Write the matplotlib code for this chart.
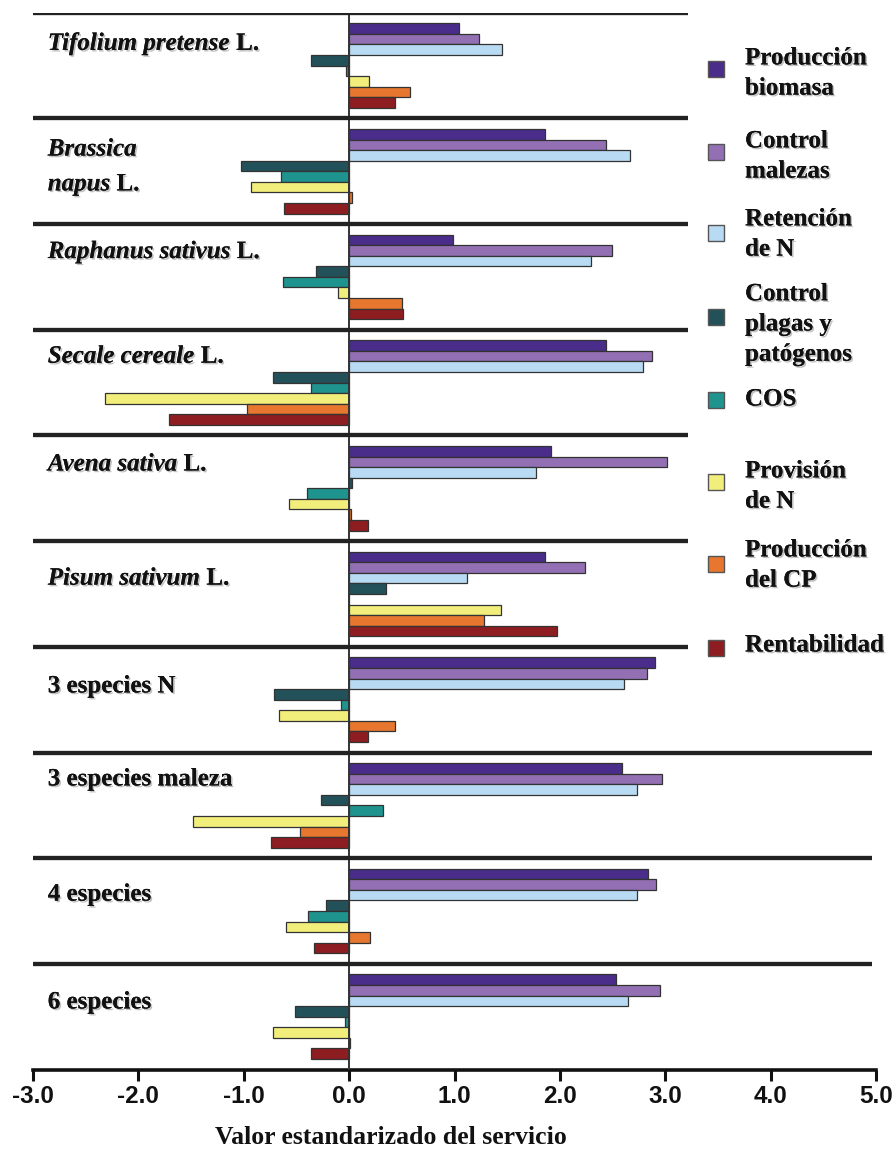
import matplotlib
matplotlib.use("Agg")
import matplotlib.pyplot as plt
import matplotlib.patheffects as pe
from matplotlib.patches import Rectangle
import numpy as np

# ---------------- data ----------------
categories = ["Tifolium pretense L.", "Brassica\nnapus L.", "Raphanus sativus L.",
              "Secale cereale L.", "Avena sativa L.", "Pisum sativum L.",
              "3 especies N", "3 especies maleza", "4 especies", "6 especies"]

series_names = ["Producción\nbiomasa", "Control\nmalezas", "Retención\nde N",
                "Control\nplagas y\npatógenos", "COS", "Provisión\nde N",
                "Producción\ndel CP", "Rentabilidad"]

prod_biomasa    = [1.04, 1.86, 0.99, 2.44, 1.92, 1.86, 2.90, 2.59, 2.84, 2.53]
control_malezas = [1.23, 2.44, 2.49, 2.87, 3.02, 2.24, 2.83, 2.97, 2.91, 2.95]
retencion_n     = [1.45, 2.67, 2.30, 2.79, 1.77, 1.12, 2.61, 2.73, 2.73, 2.65]
control_plagas  = [-0.36, -1.03, -0.31, -0.72, 0.03, 0.35, -0.71, -0.27, -0.22, -0.51]
cos             = [-0.03, -0.65, -0.63, -0.36, -0.40, 0.00, -0.08, 0.32, -0.39, -0.04]
provision_n     = [0.19, -0.93, -0.11, -2.32, -0.57, 1.44, -0.67, -1.48, -0.60, -0.72]
produccion_cp   = [0.58, 0.03, 0.50, -0.97, 0.02, 1.28, 0.44, -0.47, 0.20, 0.01]
rentabilidad    = [0.44, -0.62, 0.51, -1.71, 0.18, 1.97, 0.18, -0.74, -0.33, -0.36]

x_ticks = [-3.0, -2.0, -1.0, 0.0, 1.0, 2.0, 3.0, 4.0, 5.0]
x_label = "Valor estandarizado del servicio"

series = [prod_biomasa, control_malezas, retencion_n, control_plagas,
          cos, provision_n, produccion_cp, rentabilidad]
colors = ["#4a2d8a", "#9370b4", "#b8daf2", "#23515a",
          "#1f948f", "#f2ee7c", "#e7772f", "#8d1d20"]

# ---------------- figure ----------------
W, H = 892, 1156
fig = plt.figure(figsize=(W / 100, H / 100), dpi=100)
fig.patch.set_facecolor("white")

def fx(px):
    return px / W

def fy(py):
    return 1 - py / H

ax_l, ax_r, ax_t, ax_b = 33, 876, 12.7, 1069.6
ax = fig.add_axes([fx(ax_l), fy(ax_b), fx(ax_r) - fx(ax_l), fy(ax_t) - fy(ax_b)])
ax.set_xlim(-3, 5)
ax.set_ylim(0, 10)

serif = ["Liberation Serif", "DejaVu Serif"]
sans = ["Liberation Sans", "DejaVu Sans"]
shadow = [pe.withSimplePatchShadow(offset=(1.2, -1.2), shadow_rgbFace="#777777", alpha=0.45),
          pe.Normal()]

n_groups = len(categories)
bar_h = 0.1
for s_idx, (vals, col) in enumerate(zip(series, colors)):
    ys = [n_groups - g - 0.1 - bar_h / 2 - s_idx * bar_h for g in range(n_groups)]
    ax.barh(ys, vals, height=bar_h, color=col, edgecolor="#333333",
            linewidth=0.9, zorder=3)

# zero line
ax.axvline(0, color="#333333", lw=1.4, zorder=4)

# group separators
for k in range(1, n_groups + 1):
    xmax = 3.22 if k >= 4 else 4.96
    ax.hlines(k, -3, xmax, color="#222222", lw=3.0, zorder=5,
              path_effects=[pe.withSimplePatchShadow(offset=(0, -1.2), shadow_rgbFace="#888888", alpha=0.5), pe.Normal()])

# spines / ticks
for sp in ["top", "right", "left"]:
    ax.spines[sp].set_visible(False)
ax.spines["bottom"].set_linewidth(2.6)
ax.spines["bottom"].set_color("#111111")
ax.set_yticks([])
ax.set_xticks(x_ticks)
ax.set_xticklabels([f"{v:.1f}" for v in x_ticks], family=sans, fontweight="bold",
                   fontsize=17.5, color="#111111")
ax.tick_params(axis="x", direction="out", length=8, width=2.2, color="#111111", pad=3)

# x label
fig.text(fx(391), fy(1138), x_label, ha="center", va="center", family=serif,
         fontweight="bold", fontsize=18.5, color="#111111")

# group labels
label_offsets = [0.29, 0.29, 0.26, 0.25, 0.27, 0.35, 0.37, 0.25, 0.34, 0.36]
fig.canvas.draw()
renderer = fig.canvas.get_renderer()
for g, (lab, off) in enumerate(zip(categories, label_offsets)):
    ytop = n_groups - g
    lines = lab.split("\n")
    for li, line in enumerate(lines):
        y = ytop - off - li * 0.33
        if line.endswith(" L."):
            ital = line[:-3] + " "
            t = ax.text(-2.86, y, ital, ha="left", va="center", family=serif,
                        fontweight="bold", fontstyle="italic", fontsize=18,
                        color="#111111", path_effects=shadow, zorder=6)
            bb = t.get_window_extent(renderer=renderer)
            x_end = ax.transData.inverted().transform((bb.x1, bb.y0))[0]
            ax.text(x_end, y, "L.", ha="left", va="center", family=serif,
                    fontweight="bold", fontsize=18, color="#111111",
                    path_effects=shadow, zorder=6)
        elif g < 6:
            ax.text(-2.86, y, line, ha="left", va="center", family=serif,
                    fontweight="bold", fontstyle="italic", fontsize=18,
                    color="#111111", path_effects=shadow, zorder=6)
        else:
            ax.text(-2.86, y, line, ha="left", va="center", family=serif,
                    fontweight="bold", fontsize=18, color="#111111",
                    path_effects=shadow, zorder=6)

# legend (manual)
leg_sq_y = [69, 152, 233, 317, 400, 482, 564, 648]
leg_txt_dy = [4, 4, 1, 7, -1, 4, 1, -3]
sq = 16
for name, col, ys, dy in zip(series_names, colors, leg_sq_y, leg_txt_dy):
    fig.patches.append(Rectangle((fx(708), fy(ys + sq / 2)), fx(sq), sq / H,
                                 transform=fig.transFigure, facecolor=col,
                                 edgecolor="#555555", linewidth=1.0))
    fig.text(fx(745), fy(ys + dy), name, ha="left", va="center", family=serif,
             fontweight="bold", fontsize=18, color="#111111", linespacing=1.4,
             path_effects=shadow)

fig.savefig("out.png", dpi=100, facecolor="white")
